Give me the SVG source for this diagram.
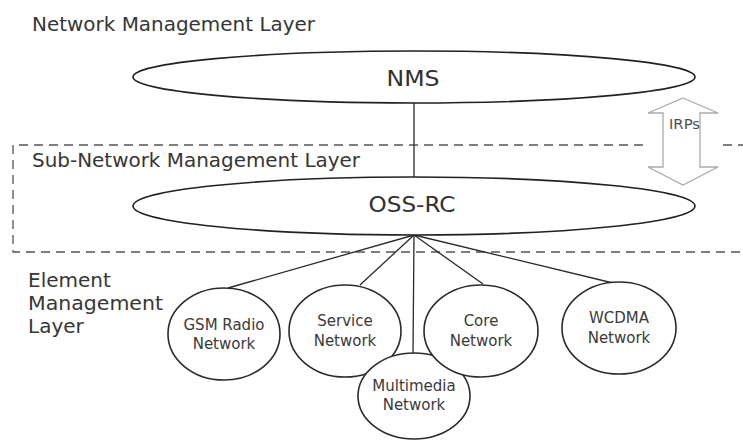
<svg xmlns="http://www.w3.org/2000/svg" width="743" height="442" viewBox="0 0 743 442">
<style>
.bg{fill:#ffffff}
.layer{font-family:"DejaVu Sans",Verdana,sans-serif;font-size:20px;fill:#363636}
.big{font-family:"DejaVu Sans",Verdana,sans-serif;font-size:21px;fill:#303030;text-anchor:middle}
.small{font-family:"DejaVu Sans",Verdana,sans-serif;font-size:15px;fill:#3a3a3a;text-anchor:middle}
.irp{font-family:"DejaVu Sans",Verdana,sans-serif;font-size:14px;fill:#505050}
.ell{fill:#ffffff;stroke:#222222;stroke-width:1.6}
.circ{fill:#ffffff;stroke:#2a2a2a;stroke-width:1.6}
.conn{stroke:#2a2a2a;stroke-width:1.3;fill:none}
.dash{stroke:#555555;stroke-width:1.3;fill:none;stroke-dasharray:9 6}
.arrow{fill:#ffffff;stroke:#aaaaaa;stroke-width:1.3}
</style>
<rect class="bg" x="0" y="0" width="743" height="442"/>
<g id="layer-labels">
<text class="layer" x="32" y="31" textLength="283" lengthAdjust="spacingAndGlyphs">Network Management Layer</text>
<text class="layer" x="32" y="167" textLength="328" lengthAdjust="spacingAndGlyphs">Sub-Network Management Layer</text>
<text class="layer" x="28" y="287">Element</text>
<text class="layer" x="28" y="310" textLength="135" lengthAdjust="spacingAndGlyphs">Management</text>
<text class="layer" x="28" y="333">Layer</text>
</g>
<g id="subnetwork-boundary">
<path class="dash" d="M643,145 L13,145 L13,252 L743,252"/>
<path class="dash" d="M723,145 L743,145"/>
</g>
<g id="connectors">
<line class="conn" x1="414" y1="103" x2="414" y2="177"/>
<line class="conn" x1="414" y1="235" x2="228" y2="288"/>
<line class="conn" x1="414" y1="235" x2="360" y2="285"/>
<line class="conn" x1="414" y1="235" x2="413" y2="353"/>
<line class="conn" x1="414" y1="235" x2="483" y2="284"/>
<line class="conn" x1="414" y1="235" x2="613" y2="283"/>
</g>
<g id="irps">
<polygon class="arrow" points="683,98 718,113 700,113 700,167 718,167 683,185 648,167 663,167 663,113 648,113"/>
<text class="irp" x="669" y="129" textLength="31" lengthAdjust="spacingAndGlyphs">IRPs</text>
</g>
<g id="nms">
<ellipse class="ell" cx="414" cy="77" rx="281" ry="26"/>
<text class="big" x="413" y="86" textLength="53" lengthAdjust="spacingAndGlyphs">NMS</text>
</g>
<g id="oss-rc">
<ellipse class="ell" cx="414" cy="206" rx="281" ry="29"/>
<text class="big" x="412" y="212" textLength="87" lengthAdjust="spacingAndGlyphs">OSS-RC</text>
</g>
<g id="gsm">
<ellipse class="circ" cx="224" cy="334" rx="56" ry="46"/>
<text class="small" x="224" y="330">GSM Radio</text>
<text class="small" x="224" y="349">Network</text>
</g>
<g id="service">
<ellipse class="circ" cx="345" cy="331" rx="56" ry="46"/>
<text class="small" x="345" y="326">Service</text>
<text class="small" x="345" y="346">Network</text>
</g>
<g id="multimedia">
<ellipse class="circ" cx="414" cy="396" rx="56" ry="43"/>
<text class="small" x="414" y="391">Multimedia</text>
<text class="small" x="414" y="410">Network</text>
</g>
<g id="core">
<ellipse class="circ" cx="481" cy="331" rx="57" ry="46"/>
<text class="small" x="481" y="326">Core</text>
<text class="small" x="481" y="346">Network</text>
</g>
<g id="wcdma">
<ellipse class="circ" cx="619" cy="328" rx="57" ry="46"/>
<text class="small" x="619" y="323">WCDMA</text>
<text class="small" x="619" y="343">Network</text>
</g>
</svg>
